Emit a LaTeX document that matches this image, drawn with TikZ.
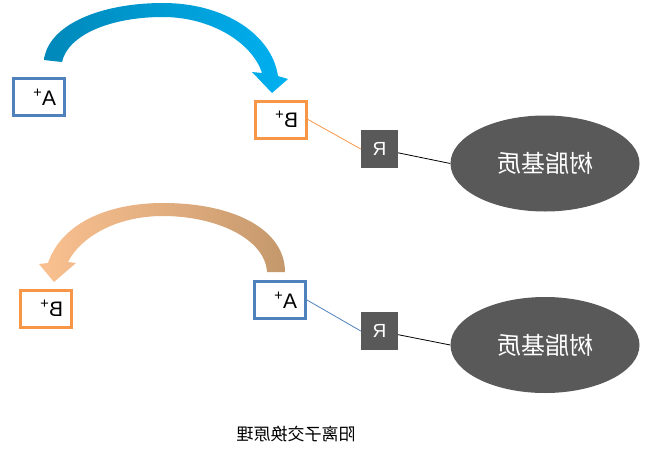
\documentclass[tikz,border=0pt]{standalone}
\usepackage{fontspec}
\setmainfont{Liberation Sans}
\newfontfamily\cjkfont{Noto Sans CJK SC}
\usetikzlibrary{shapes.geometric}

\definecolor{ionblue}{HTML}{4F81BD}
\definecolor{ionorange}{HTML}{F79646}
\definecolor{resingray}{HTML}{595959}
\definecolor{arrowdeep}{HTML}{0088B9}
\definecolor{arrowsky}{HTML}{00B0F0}
\definecolor{arrowpeach}{HTML}{FAC090}
\definecolor{arrowtan}{HTML}{C4986C}

% mirrored text, as in the picture
\newcommand{\flipped}[1]{\scalebox{-1}[1]{#1}}

\begin{document}
\begin{tikzpicture}[
        x=1pt, y=-1pt,
        ionbox/.style={
            rectangle,
            draw,
            line width=3pt,
            fill=white,
            inner sep=0pt,
            minimum width=51pt,
            minimum height=37pt,
            font=\fontsize{21}{21}\selectfont
        },
        rbox/.style={
            rectangle,
            fill=resingray,
            text=white,
            inner sep=0pt,
            minimum width=37pt,
            minimum height=38pt,
            font=\fontsize{19}{19}\selectfont
        },
        resin/.style={
            ellipse,
            fill=resingray,
            text=white,
            inner sep=0pt,
            minimum width=189pt,
            minimum height=96pt,
            font=\cjkfont\fontsize{24}{24}\selectfont
        },
        link/.style={
            line width=0.8pt
        }
    ]
        \useasboundingbox (0,0) rectangle (656,450);

        % Top: A+ leaves, B+ taken up
        \shade[left color=arrowdeep, right color=arrowsky]
            (44,60) .. controls (48,25) and (100,3) .. (163,3)
            .. controls (225,3) and (272,35) .. (278,76)
            -- (288,79) -- (272,93) -- (252,72) -- (262,73)
            .. controls (252,42) and (210,17) .. (163,17)
            .. controls (110,17) and (68,35) .. (62,62) -- cycle;

        \node[ionbox, draw=ionblue] (a1) at (39,97)
            {\flipped{\makebox[34pt][l]{A\textsuperscript{+}}}};
        \node[ionbox, draw=ionorange] (b1) at (281,119.5)
            {\flipped{\makebox[34pt][l]{B\textsuperscript{+}}}};
        \node[rbox] (r1) at (379.5,149) {\flipped{R}};
        \node[resin] (m1) at (545,163.5) {\flipped{树脂基质}};

        \draw[link, ionorange] (b1.east) -- (r1.west);
        \draw[link] (r1) -- (m1.west);

        % Bottom: B+ leaves, A+ taken up
        \shade[left color=arrowpeach, right color=arrowtan,
               middle color=arrowpeach!55!arrowtan]
            (48,263) .. controls (62,222) and (110,203) .. (163,203)
            .. controls (235,203) and (285,230) .. (285,272)
            -- (267,272) .. controls (265,238) and (215,216) .. (163,216)
            .. controls (115,216) and (80,238) .. (68,262)
            -- (76,263) -- (54,282) -- (39,264) -- cycle;

        \node[ionbox, draw=ionorange] (b2) at (46,308.5)
            {\flipped{\makebox[34pt][l]{B\textsuperscript{+}}}};
        \node[ionbox, draw=ionblue] (a2) at (280,300)
            {\flipped{\makebox[34pt][l]{A\textsuperscript{+}}}};
        \node[rbox] (r2) at (379.5,331) {\flipped{R}};
        \node[resin] (m2) at (545,345) {\flipped{树脂基质}};

        \draw[link, ionblue] (a2.east) -- (r2.west);
        \draw[link] (r2) -- (m2.west);

        \node[font=\cjkfont\fontsize{17}{17}\selectfont] (cap) at (296,434)
            {\flipped{阳离子交换原理}};

    \end{tikzpicture}
\end{document}
